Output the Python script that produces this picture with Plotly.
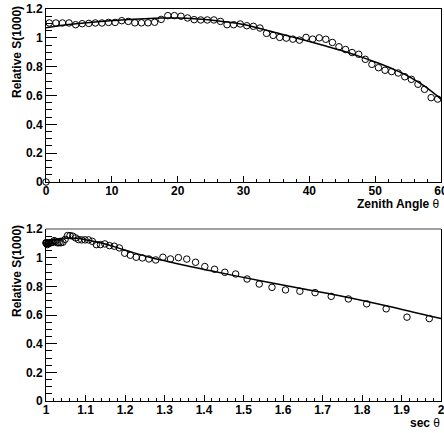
import numpy as np
import plotly.graph_objects as go

# ---- data ----
theta = [0.0, 0.5, 1.5, 2.5, 3.5, 4.5, 5.5, 6.5, 7.5, 8.5, 9.5,
         10.5, 11.5, 12.5, 13.5, 14.5, 15.5, 16.5, 17.5, 18.5, 19.5,
         20.5, 21.5, 22.5, 23.5, 24.5, 25.5, 26.5, 27.5, 28.5, 29.5,
         30.5, 31.5, 32.5, 33.5, 34.5, 35.5, 36.5, 37.5, 38.5, 39.5,
         40.5, 41.5, 42.5, 43.5, 44.5, 45.5, 46.5, 47.5, 48.5, 49.5,
         50.5, 51.5, 52.5, 53.5, 54.5, 55.5, 56.5, 57.5, 58.5, 59.5]
rel_s1000 = [0.0, 1.103, 1.103, 1.103, 1.103, 1.091, 1.098, 1.100, 1.103, 1.103, 1.107,
             1.107, 1.119, 1.114, 1.104, 1.104, 1.104, 1.108, 1.128, 1.154, 1.154,
             1.150, 1.138, 1.126, 1.124, 1.124, 1.124, 1.114, 1.091, 1.091, 1.096,
             1.084, 1.080, 1.068, 1.031, 1.017, 1.003, 0.998, 0.991, 0.984, 1.003,
             0.991, 1.000, 0.990, 0.968, 0.938, 0.919, 0.898, 0.886, 0.851, 0.816,
             0.793, 0.775, 0.766, 0.756, 0.730, 0.712, 0.678, 0.643, 0.585, 0.575]

fit_theta = [0, 2.5, 5, 7.5, 10, 12.5, 15, 17.5, 20, 22.5, 25, 27.5, 30,
             32.5, 35, 37.5, 40, 42.5, 45, 47.5, 50, 52.5, 55, 57.5, 60]
fit_val = [1.07, 1.088, 1.10, 1.11, 1.12, 1.127, 1.133, 1.137, 1.137, 1.133, 1.124, 1.11, 1.092,
           1.065, 1.035, 1.005, 0.975, 0.943, 0.91, 0.873, 0.832, 0.787, 0.735, 0.665, 0.575]

x1_ticks = [0, 10, 20, 30, 40, 50, 60]
x2_ticks = [1, 1.1, 1.2, 1.3, 1.4, 1.5, 1.6, 1.7, 1.8, 1.9, 2]
y_ticks = [0, 0.2, 0.4, 0.6, 0.8, 1, 1.2]

# ---- derived ----
sec_pts = [1.0 / np.cos(np.radians(t)) for t, v in zip(theta, rel_s1000) if v > 0]
val_pts = [v for v in rel_s1000 if v > 0]
sec_fit = [1.0 / np.cos(np.radians(t)) for t in fit_theta]

FONT = "Liberation Sans"
W, H = 444, 433
ml, mr, mt, mb = 46, 3, 9, 32
ph = H - mt - mb
pw = W - ml - mr
def py(p):
    return (H - mb - p) / ph
def px(p):
    return (p - ml) / pw

fig = go.Figure()
mk = dict(symbol="circle-open", size=6.5, color="black", line=dict(width=1, color="black"))
fig.add_trace(go.Scatter(x=fit_theta, y=fit_val, mode="lines", line=dict(color="black", width=1.5, shape="spline"),
                         xaxis="x", yaxis="y", showlegend=False))
fig.add_trace(go.Scatter(x=theta, y=rel_s1000, mode="markers", marker=mk, xaxis="x", yaxis="y",
                         showlegend=False, cliponaxis=False))
fig.add_trace(go.Scatter(x=sec_fit, y=fit_val, mode="lines", line=dict(color="black", width=1.5, shape="spline"),
                         xaxis="x2", yaxis="y2", showlegend=False))
fig.add_trace(go.Scatter(x=sec_pts, y=val_pts, mode="markers", marker=mk, xaxis="x2", yaxis="y2",
                         showlegend=False, cliponaxis=False))

tickfont = dict(family=FONT, size=12, color="black", weight="bold")
common_x = dict(showgrid=False, zeroline=False, showline=True, linecolor="black", linewidth=1,
                ticks="inside", ticklen=6, tickwidth=1, tickcolor="black", tickfont=tickfont,
                ticklabeloverflow="allow", ticklabelstandoff=-2, automargin=False)
common_y = dict(showgrid=False, zeroline=False, showline=True, linecolor="black", linewidth=1,
                ticks="inside", ticklen=11, tickwidth=1, tickcolor="black", tickfont=tickfont,
                ticklabeloverflow="allow", automargin=False,
                range=[0, 1.2], tickvals=y_ticks, mirror=True,
                minor=dict(dtick=0.05, ticks="inside", ticklen=6, tickcolor="black", showgrid=False))

top_lo = py(182)
bot_hi = py(229)

fig.update_layout(
    width=W, height=H, margin=dict(l=ml, r=mr, t=mt, b=mb, autoexpand=False),
    paper_bgcolor="white", plot_bgcolor="white",
    xaxis=dict(domain=[0, 1], anchor="y", range=[0, 60], tickvals=x1_ticks, mirror=True,
               minor=dict(dtick=2, ticks="inside", ticklen=3, tickcolor="black", showgrid=False), **common_x),
    yaxis=dict(domain=[top_lo, 1], anchor="x", **common_y),
    xaxis2=dict(domain=[0, 1], anchor="y2", range=[1, 2], tickvals=x2_ticks, mirror=False,
                minor=dict(dtick=0.02, ticks="inside", ticklen=3, tickcolor="black", showgrid=False), **common_x),
    yaxis2=dict(domain=[0, bot_hi], anchor="x2", **common_y),
    shapes=[dict(type="line", xref="x2 domain", yref="y2 domain", x0=0, x1=1, y0=1, y1=1,
                 line=dict(color="#808080", width=1.5))],
    annotations=[
        dict(text="<b>Relative S(1000)</b>", textangle=-90, xref="paper", yref="paper",
             x=px(17), y=py(4), xanchor="center", yanchor="top", showarrow=False,
             font=dict(family=FONT, size=12, color="black")),
        dict(text="<b>Relative S(1000)</b>", textangle=-90, xref="paper", yref="paper",
             x=px(17), y=py(223), xanchor="center", yanchor="top", showarrow=False,
             font=dict(family=FONT, size=12, color="black")),
        dict(text="<b>Zenith Angle</b> θ", xref="paper", yref="paper",
             x=px(442), y=py(204), xanchor="right", yanchor="middle", showarrow=False,
             font=dict(family=FONT, size=12, color="black")),
        dict(text="<b>sec</b> θ", xref="paper", yref="paper",
             x=px(442), y=py(423), xanchor="right", yanchor="middle", showarrow=False,
             font=dict(family=FONT, size=12, color="black")),
    ],
)

fig.write_html("out.html")
